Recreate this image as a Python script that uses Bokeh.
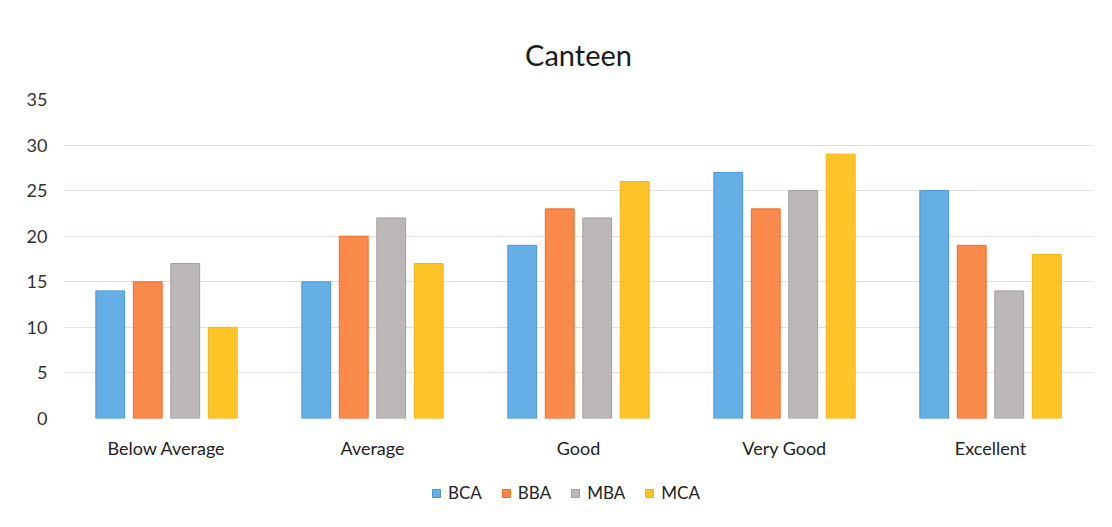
from bokeh.plotting import figure
from bokeh.layouts import column
from bokeh.models import ColumnDataSource, FactorRange, Legend, LegendItem, Range1d, Title
from bokeh.transform import dodge
from bokeh.embed import file_html
from bokeh.resources import INLINE

categories = ["Below Average", "Average", "Good", "Very Good", "Excellent"]
series = ["BCA", "BBA", "MBA", "MCA"]
bca = [14, 15, 19, 27, 25]
bba = [15, 20, 23, 23, 19]
mba = [17, 22, 22, 25, 14]
mca = [10, 17, 26, 29, 18]
y_ticks = [0, 5, 10, 15, 20, 25, 30, 35]
title_text = "Canteen"

fills = ["#66aee6", "#f98a4c", "#bcb8b8", "#fcc426"]
lines = ["#4a95d6", "#ee6a2a", "#a29e9e", "#f2b418"]

src = ColumnDataSource(data=dict(cat=categories, BCA=bca, BBA=bba, MBA=mba, MCA=mca))

FONT = "Lato"

p = figure(x_range=FactorRange(factors=categories, range_padding=0),
           y_range=Range1d(0, 35),
           width=1096, height=470, output_backend="svg", toolbar_location=None,
           min_border_left=63, min_border_right=3, min_border_top=99, min_border_bottom=52)

p.background_fill_color = "white"
p.border_fill_color = "white"
p.outline_line_color = None

offsets = [-0.273, -0.091, 0.091, 0.273]
for s, off, fc, lc in zip(series, offsets, fills, lines):
    p.vbar(x=dodge("cat", off, range=p.x_range), top=s, width=0.14, source=src,
           fill_color=fc, line_color=lc, line_width=1)

t = Title(text=title_text, align="center", vertical_align="top", text_font=FONT,
          text_font_size="29px", text_font_style="normal", text_color="#1a1a1a", standoff=52)
p.add_layout(t, "above")

p.yaxis.ticker = y_ticks
p.yaxis.axis_line_color = None
p.yaxis.major_tick_line_color = None
p.yaxis.minor_tick_line_color = None
p.yaxis.major_label_standoff = 10
p.yaxis.major_label_text_font = FONT
p.yaxis.major_label_text_font_size = "18px"
p.yaxis.major_label_text_color = "#333333"

p.xaxis.axis_line_color = None
p.xaxis.major_tick_line_color = None
p.xaxis.minor_tick_line_color = None
p.xaxis.major_label_standoff = 12
p.xaxis.major_label_text_font = FONT
p.xaxis.major_label_text_font_size = "18px"
p.xaxis.major_label_text_color = "#222222"

p.xgrid.grid_line_color = None
p.ygrid.grid_line_color = "#e8dede"
p.ygrid.grid_line_width = 1

# legend strip below the chart (legend proxies lie outside its visible range)
lf = figure(width=1096, height=41, output_backend="svg", toolbar_location=None,
            x_range=Range1d(0, 1), y_range=Range1d(0, 1),
            min_border_left=0, min_border_right=0, min_border_top=0, min_border_bottom=0)
lf.axis.visible = False
lf.grid.visible = False
lf.outline_line_color = None
lf.background_fill_color = "white"
lf.border_fill_color = "white"
proxy = ColumnDataSource(data=dict(x=[-5.0], top=[-4.0], bottom=[-5.0]))
items = []
for s, fc, lc in zip(series, fills, lines):
    r = lf.vbar(x="x", top="top", bottom="bottom", width=0.1, source=proxy,
                fill_color=fc, line_color=lc)
    items.append(LegendItem(label=s, renderers=[r]))
legend = Legend(items=items, orientation="horizontal", location=(368, 8),
                label_text_font=FONT, label_text_font_size="17px", label_text_color="#222222",
                glyph_width=10, glyph_height=10, spacing=19, label_standoff=7,
                border_line_color=None, background_fill_alpha=0, margin=0, padding=2)
lf.add_layout(legend, "center")

layout = column(p, lf, spacing=0)
open("out.html", "w").write(file_html(layout, INLINE))
